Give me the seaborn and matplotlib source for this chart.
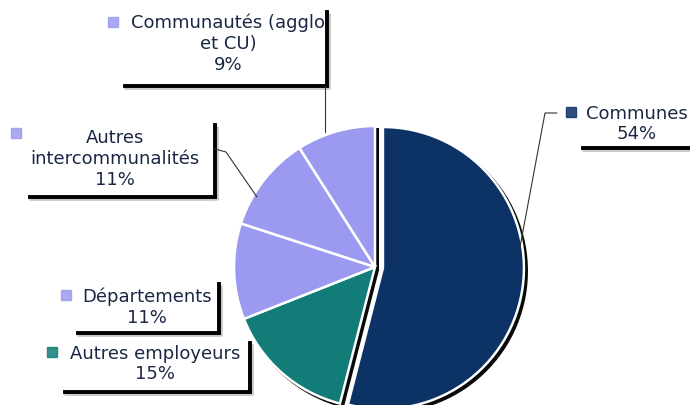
import numpy as np
import matplotlib
matplotlib.use("Agg")
import matplotlib.pyplot as plt
import seaborn as sns

# donnees
categories = ["Communes", "Autres employeurs", "Départements",
              "Autres intercommunalités", "Communautés (agglo et CU)"]
parts = [54, 15, 11, 11, 9]
labels_txt = ["Communes\n54%", "Autres employeurs\n15%", "Départements\n11%",
              "Autres\nintercommunalités\n11%", "Communautés (agglo\net CU)\n9%"]
couleurs = ["#0c3266", "#127c78", "#9b9af0", "#9b9af0", "#9b9af0"]

sns.set_theme(style="white")
plt.rcParams['font.family'] = ['DejaVu Sans']
texte_col = "#1a2744"

W, H = 690, 405
fig = plt.figure(figsize=(6.9, 4.05), dpi=100)
ax = fig.add_axes([0, 0, 1, 1])

def y(v):
    return H - v

centre = (375, y(267))
rayon = 141
# explode en unites de donnees (pixels) ici
explode = [8, 0, 0, 0, 0]

# ombre
ax.pie(parts, center=(centre[0] + 3, centre[1] - 3), radius=rayon, startangle=90,
       counterclock=False, explode=explode, colors=["#0a0a0a"] * 5,
       wedgeprops=dict(edgecolor="#0a0a0a", linewidth=1.5), frame=True)
ax.pie(parts, center=centre, radius=rayon, startangle=90, counterclock=False,
       explode=explode, colors=couleurs,
       wedgeprops=dict(edgecolor="white", linewidth=1.8), frame=True)
ax.set_xlim(0, W)
ax.set_ylim(0, H)
ax.set_aspect('equal')
ax.axis('off')

# position des etiquettes (pixels): texte x, texte y, marqueur, cadre
layout = {
    "Communautés (agglo et CU)": dict(tx=228, ty=44, mk=(113, 22), vx=327, vy=(12, 86), hx=(125, 327), hy=86),
    "Autres intercommunalités": dict(tx=115, ty=159, mk=(16, 133), vx=215, vy=(125, 197), hx=(30, 215), hy=197),
    "Départements": dict(tx=147, ty=307, mk=(66, 295), vx=219, vy=(284, 333), hx=(78, 219), hy=333),
    "Autres employeurs": dict(tx=155, ty=364, mk=(52, 352), vx=250, vy=(343, 392), hx=(65, 250), hy=392),
    "Communes": dict(tx=637, ty=124, mk=(571, 112), vx=None, vy=None, hx=(583, 700), hy=148),
}

for cat, lab, col in zip(categories, labels_txt, couleurs):
    p = layout[cat]
    ax.text(p["tx"], y(p["ty"]), lab, ha="center", va="center", fontsize=13,
            color=texte_col, linespacing=1.2)
    ax.plot(p["mk"][0], y(p["mk"][1]), marker="s", markersize=6.5, color=col, alpha=0.85)
    # cadre (bord droit + bas), avec ombre grise
    if p["vx"] is not None:
        ax.plot([p["vx"] + 2, p["vx"] + 2], [y(p["vy"][0] + 2), y(p["vy"][1] + 2)], color="#c8c8c8", lw=2)
        ax.plot([p["vx"], p["vx"]], [y(p["vy"][0]), y(p["vy"][1])], color="black", lw=2.8,
                solid_capstyle="projecting")
    ax.plot([p["hx"][0], p["hx"][1]], [y(p["hy"] + 2), y(p["hy"] + 2)], color="#c8c8c8", lw=2)
    ax.plot([p["hx"][0], p["hx"][1]], [y(p["hy"]), y(p["hy"])], color="black", lw=2.8,
            solid_capstyle="projecting")

# lignes de rappel
ax.plot([325, 325], [y(86), y(132)], color="#333333", lw=0.8)
ax.plot([215, 226, 257], [y(149), y(152), y(197)], color="#333333", lw=0.8)
ax.plot([557, 545, 520], [y(113), y(113), y(247)], color="#333333", lw=0.8)

fig.savefig("out.png", dpi=100, facecolor="white")
